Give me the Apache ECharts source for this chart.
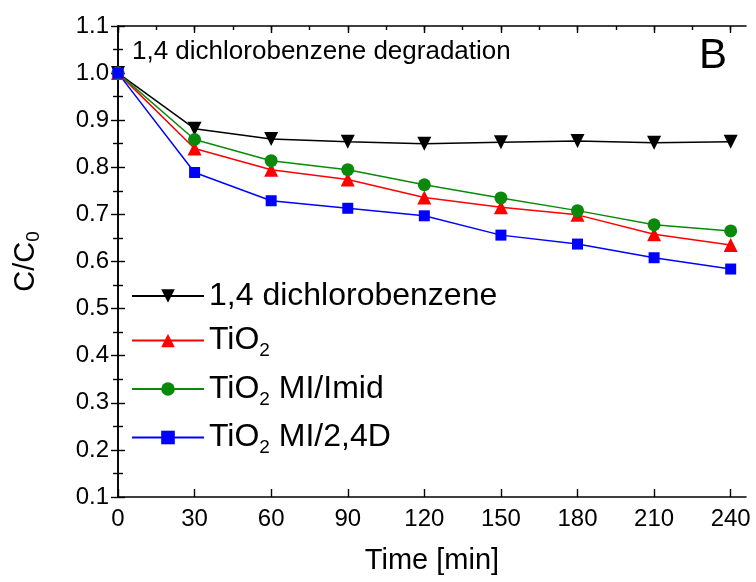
<!DOCTYPE html>
<html>
<head>
    <meta charset="utf-8">
    <title>ECharts</title>
    <script src="https://cdn.jsdelivr.net/npm/echarts@6/dist/echarts.min.js"></script>
</head>
<body style="margin:0;">
<div id="main" style="width: 756px;height:582px;"></div>
<script type="text/javascript">
    // time in minutes
    var times = [0, 30, 60, 90, 120, 150, 180, 210, 240];
    var xTicks = [0, 30, 60, 90, 120, 150, 180, 210, 240];
    var xMinorTicks = [0, 15, 30, 45, 60, 75, 90, 105, 120, 135, 150, 165, 180, 195, 210, 225, 240];
    // C/C0 values
    var dcb = [1.0, 0.882, 0.860, 0.854, 0.850, 0.853, 0.856, 0.852, 0.854];
    var tio2 = [1.0, 0.840, 0.795, 0.774, 0.736, 0.715, 0.699, 0.658, 0.635];
    var tio2Imid = [1.0, 0.859, 0.814, 0.795, 0.763, 0.735, 0.708, 0.678, 0.665];
    var tio2D = [1.0, 0.789, 0.729, 0.713, 0.697, 0.656, 0.637, 0.608, 0.584];
    var names = ['1,4 dichlorobenzene', 'TiO2', 'TiO2 MI/Imid', 'TiO2 MI/2,4D'];

    function pairs(ys) {
        let out = [];
        for (let i = 0; i < times.length; i++) {
            out.push([times[i], ys[i]]);
        }
        return out;
    }

    var font = 'Liberation Sans, Arial, sans-serif';
    var tickCol = '#000';

    function mkSeries(name, ys, color, symbol, size, rot) {
        return {
            name: name,
            type: 'line',
            data: pairs(ys),
            symbol: symbol,
            symbolSize: size,
            symbolRotate: rot,
            lineStyle: {color: color, width: 1.5},
            itemStyle: {color: color},
            z: 3
        };
    }

    var legendLabel = {
        '1,4 dichlorobenzene': '{n|1,4 dichlorobenzene}',
        'TiO2': '{n|TiO}{s|2}',
        'TiO2 MI/Imid': '{n|TiO}{s|2}{n| MI/Imid}',
        'TiO2 MI/2,4D': '{n|TiO}{s|2}{n| MI/2,4D}'
    };

    var myChart = echarts.init(document.getElementById('main'));
    var option = {
        animation: false,
        backgroundColor: '#fff',
        grid: {left: 118, right: 10, top: 26, bottom: 85, outerBoundsMode: 'none'},
        title: [
            {text: '1,4 dichlorobenzene degradation', left: 127, top: 34,
             textStyle: {fontFamily: font, fontSize: 26, fontWeight: 'normal', color: '#000'}},
            {text: 'B', left: 694, top: 30,
             textStyle: {fontFamily: font, fontSize: 42, fontWeight: 'normal', color: '#000'}}
        ],
        legend: {
            data: names,
            orient: 'vertical',
            left: 126,
            top: 275,
            itemWidth: 72,
            itemHeight: 17,
            itemGap: 12.5,
            formatter: function (name) { return legendLabel[name]; },
            textStyle: {
                rich: {
                    n: {fontFamily: font, fontSize: 32, color: '#000', lineHeight: 40},
                    s: {fontFamily: font, fontSize: 19, color: '#000', lineHeight: 4, verticalAlign: 'bottom'}
                }
            }
        },
        xAxis: [
            {
                type: 'value', position: 'bottom', min: 0, max: 246, interval: 30,
                name: 'Time [min]', nameLocation: 'middle', nameGap: 49,
                nameTextStyle: {fontFamily: font, fontSize: 29, color: '#000'},
                axisLine: {show: true, lineStyle: {color: tickCol, width: 1.6}},
                axisTick: {inside: true, length: 8, customValues: xTicks, lineStyle: {width: 1.4}},
                axisLabel: {customValues: xTicks, fontFamily: font, fontSize: 24, color: '#000', margin: 10},
                splitLine: {show: false}
            },
            {
                type: 'value', position: 'top', min: 0, max: 246,
                axisLine: {show: true, lineStyle: {color: tickCol, width: 1.6}},
                axisTick: {inside: true, length: 7, customValues: xTicks, lineStyle: {width: 1.4}},
                axisLabel: {show: false},
                splitLine: {show: false}
            },
            {
                type: 'value', position: 'top', min: 0, max: 246,
                axisLine: {show: false},
                axisTick: {inside: true, length: 4, customValues: xMinorTicks, lineStyle: {color: tickCol, width: 1.4}},
                axisLabel: {show: false},
                splitLine: {show: false}
            }
        ],
        yAxis: [
            {
                type: 'value', position: 'left', min: 0.1, max: 1.1, interval: 0.1,
                name: '{a|C/C}{s|0}', nameLocation: 'middle', nameGap: 75, nameRotate: 90,
                nameTextStyle: {
                    rich: {
                        a: {fontFamily: font, fontSize: 29, color: '#000', lineHeight: 34},
                        s: {fontFamily: font, fontSize: 19, color: '#000', lineHeight: 8, verticalAlign: 'bottom'}
                    }
                },
                axisLine: {show: true, lineStyle: {color: tickCol, width: 1.6}},
                axisTick: {inside: true, length: 7, lineStyle: {width: 1.4}},
                minorTick: {show: true, splitNumber: 2, length: 5, lineStyle: {color: tickCol, width: 1.4}},
                axisLabel: {
                    fontFamily: font, fontSize: 24, color: '#000', margin: 9,
                    formatter: function (v) { return v.toFixed(1); }
                },
                splitLine: {show: false},
                minorSplitLine: {show: false}
            },
            {
                type: 'value', position: 'right', min: 0.1, max: 1.1, interval: 0.1,
                axisLine: {show: true, lineStyle: {color: tickCol, width: 1.6}},
                axisTick: {inside: true, length: 7, lineStyle: {width: 1.4}},
                minorTick: {show: true, splitNumber: 2, length: 5, lineStyle: {color: tickCol, width: 1.4}},
                axisLabel: {show: false},
                splitLine: {show: false}
            }
        ],
        series: [
            mkSeries(names[0], dcb, '#000000', 'triangle', 14, 180),
            mkSeries(names[1], tio2, '#ff0000', 'triangle', 14, 0),
            mkSeries(names[2], tio2Imid, '#0a8a0a', 'circle', 13, 0),
            mkSeries(names[3], tio2D, '#0000ff', 'rect', 11, 0)
        ]
    };
    myChart.setOption(option);
</script>
</body>
</html>
